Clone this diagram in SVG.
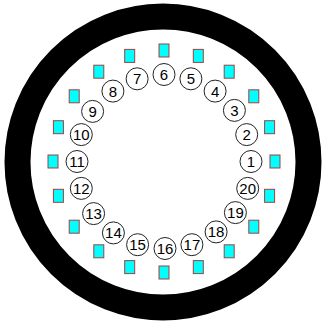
<svg xmlns="http://www.w3.org/2000/svg" width="323" height="325" viewBox="0 0 323 325">
<style>
.pin circle{fill:#fff;stroke:#222;stroke-width:1}
.pin text{font-family:"Liberation Sans",Arial,sans-serif;font-size:15px;fill:#000;text-anchor:middle;dominant-baseline:central}
.pad{fill:#00ffff;stroke:#a04040;stroke-width:1}
</style>
<rect width="323" height="325" fill="#fff"/>
<circle id="shell" cx="163" cy="162" r="145.5" fill="none" stroke="#000" stroke-width="26"/>
<g id="connectors"></g>
<g id="pads">
<rect class="pad" x="270" y="155" width="10" height="13"/>
<rect class="pad" x="264.6" y="120.7" width="10" height="13"/>
<rect class="pad" x="248.8" y="89.8" width="10" height="13"/>
<rect class="pad" x="224.2" y="65.2" width="10" height="13"/>
<rect class="pad" x="193.3" y="49.4" width="10" height="13"/>
<rect class="pad" x="159" y="44" width="10" height="13"/>
<rect class="pad" x="124.7" y="49.4" width="10" height="13"/>
<rect class="pad" x="93.8" y="65.2" width="10" height="13"/>
<rect class="pad" x="69.2" y="89.8" width="10" height="13"/>
<rect class="pad" x="53.4" y="120.7" width="10" height="13"/>
<rect class="pad" x="48" y="155" width="10" height="13"/>
<rect class="pad" x="53.4" y="189.3" width="10" height="13"/>
<rect class="pad" x="69.2" y="220.2" width="10" height="13"/>
<rect class="pad" x="93.8" y="244.8" width="10" height="13"/>
<rect class="pad" x="124.7" y="260.6" width="10" height="13"/>
<rect class="pad" x="159" y="266" width="10" height="13"/>
<rect class="pad" x="193.3" y="260.6" width="10" height="13"/>
<rect class="pad" x="224.2" y="244.8" width="10" height="13"/>
<rect class="pad" x="248.8" y="220.2" width="10" height="13"/>
<rect class="pad" x="264.6" y="189.3" width="10" height="13"/>
</g>
<g id="pin1" class="pin"><circle cx="251" cy="161.5" r="11"/><text x="251" y="161.5">1</text></g>
<g id="pin2" class="pin"><circle cx="246.7" cy="134.6" r="11"/><text x="246.7" y="134.6">2</text></g>
<g id="pin3" class="pin"><circle cx="234.4" cy="110.4" r="11"/><text x="234.4" y="110.4">3</text></g>
<g id="pin4" class="pin"><circle cx="215.1" cy="91.1" r="11"/><text x="215.1" y="91.1">4</text></g>
<g id="pin5" class="pin"><circle cx="190.9" cy="78.8" r="11"/><text x="190.9" y="78.8">5</text></g>
<g id="pin6" class="pin"><circle cx="164" cy="74.5" r="11"/><text x="164" y="74.5">6</text></g>
<g id="pin7" class="pin"><circle cx="137.1" cy="78.8" r="11"/><text x="137.1" y="78.8">7</text></g>
<g id="pin8" class="pin"><circle cx="112.9" cy="91.1" r="11"/><text x="112.9" y="91.1">8</text></g>
<g id="pin9" class="pin"><circle cx="92.6" cy="111.4" r="11"/><text x="92.6" y="111.4">9</text></g>
<g id="pin10" class="pin"><circle cx="81.3" cy="134.6" r="11"/><text x="81.3" y="134.6">10</text></g>
<g id="pin11" class="pin"><circle cx="77" cy="161.5" r="11"/><text x="77" y="161.5">11</text></g>
<g id="pin12" class="pin"><circle cx="81.3" cy="188.4" r="11"/><text x="81.3" y="188.4">12</text></g>
<g id="pin13" class="pin"><circle cx="93.6" cy="213.6" r="11"/><text x="93.6" y="213.6">13</text></g>
<g id="pin14" class="pin"><circle cx="113.4" cy="232.9" r="11"/><text x="113.4" y="232.9">14</text></g>
<g id="pin15" class="pin"><circle cx="137.6" cy="244.7" r="11"/><text x="137.6" y="244.7">15</text></g>
<g id="pin16" class="pin"><circle cx="165" cy="248.5" r="11"/><text x="165" y="248.5">16</text></g>
<g id="pin17" class="pin"><circle cx="191.9" cy="244.7" r="11"/><text x="191.9" y="244.7">17</text></g>
<g id="pin18" class="pin"><circle cx="216.1" cy="231.9" r="11"/><text x="216.1" y="231.9">18</text></g>
<g id="pin19" class="pin"><circle cx="235.4" cy="212.6" r="11"/><text x="235.4" y="212.6">19</text></g>
<g id="pin20" class="pin"><circle cx="247.7" cy="188.4" r="11"/><text x="247.7" y="188.4">20</text></g>
</svg>
